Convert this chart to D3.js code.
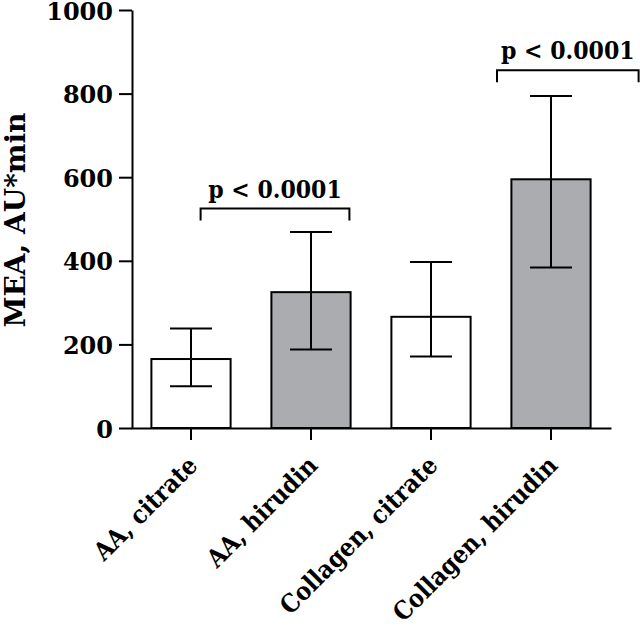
<!DOCTYPE html>
<html>
<head>
<meta charset="utf-8">
<script src="https://cdn.jsdelivr.net/npm/d3@7"></script>
<style>
  body { margin: 0; background: #fff; }
  svg text { font-family: "DejaVu Serif", serif; font-weight: bold; fill: #000; }
  .ptext, .xlab { font-stretch: condensed; }
</style>
</head>
<body>
<div id="chart"></div>
<script>
var w = 640, h = 627;

// data
var groups = ['AA, citrate', 'AA, hirudin', 'Collagen, citrate', 'Collagen, hirudin'];
var means = [165, 325, 266, 595];
var errLow = [100, 188, 171, 384];
var errHigh = [238, 469, 397, 794];
var yTicks = [0, 200, 400, 600, 800, 1000];

// significance brackets (category index units for x, data units for y)
var pLabels = ['p < 0.0001', 'p < 0.0001'];
var bracketFrom = [0.08, 2.55];
var bracketTo = [1.32, 3.73];
var bracketLevel = [525, 856];

var fills = ['#ffffff', '#abacb0', '#ffffff', '#abacb0'];

var svg = d3.select('#chart').append('svg')
  .attr('width', w)
  .attr('height', h);

var y = d3.scaleLinear().domain([0, 1000]).range([428, 10]);
var x = d3.scaleBand().domain(groups).range([131, 611])
  .paddingInner(0.34).paddingOuter(0.17);

// index -> pixel centre of category
function xi(v) {
  return x(groups[0]) + x.bandwidth() / 2 + v * x.step();
}

// bars
svg.selectAll('rect.bar')
  .data(groups)
  .enter()
  .append('rect')
  .attr('class', 'bar')
  .attr('x', function (d) { return x(d); })
  .attr('y', function (d, i) { return y(means[i]); })
  .attr('width', x.bandwidth())
  .attr('height', function (d, i) { return y(0) - y(means[i]); })
  .attr('fill', function (d, i) { return fills[i]; })
  .attr('stroke', '#000')
  .attr('stroke-width', 2);

// error bars
var capW = x.bandwidth() * 0.53;
var eb = svg.selectAll('g.err')
  .data(groups)
  .enter()
  .append('g')
  .attr('class', 'err')
  .attr('stroke', '#000')
  .attr('stroke-width', 2);

eb.append('line')
  .attr('x1', function (d) { return x(d) + x.bandwidth() / 2; })
  .attr('x2', function (d) { return x(d) + x.bandwidth() / 2; })
  .attr('y1', function (d, i) { return y(errLow[i]); })
  .attr('y2', function (d, i) { return y(errHigh[i]); });
eb.append('line')
  .attr('x1', function (d) { return x(d) + x.bandwidth() / 2 - capW / 2; })
  .attr('x2', function (d) { return x(d) + x.bandwidth() / 2 + capW / 2; })
  .attr('y1', function (d, i) { return y(errHigh[i]); })
  .attr('y2', function (d, i) { return y(errHigh[i]); });
eb.append('line')
  .attr('x1', function (d) { return x(d) + x.bandwidth() / 2 - capW / 2; })
  .attr('x2', function (d) { return x(d) + x.bandwidth() / 2 + capW / 2; })
  .attr('y1', function (d, i) { return y(errLow[i]); })
  .attr('y2', function (d, i) { return y(errLow[i]); });

// y axis
var yAxis = svg.append('g')
  .attr('transform', 'translate(132,0)')
  .call(d3.axisLeft(y).tickValues(yTicks).tickFormat(d3.format('d'))
    .tickSize(13).tickSizeOuter(0).tickPadding(6));
yAxis.select('.domain').attr('stroke-width', 2);
yAxis.selectAll('.tick line').attr('stroke-width', 2);
yAxis.selectAll('.tick text')
  .style('font-size', '24px')
  .attr('dy', '0.38em');

// x axis
var xAxis = svg.append('g')
  .attr('transform', 'translate(0,428)')
  .call(d3.axisBottom(x).tickSize(12).tickSizeOuter(0).tickFormat(''));
xAxis.select('.domain').attr('stroke-width', 2);
xAxis.selectAll('.tick line').attr('stroke-width', 2);

// rotated category labels
svg.selectAll('text.xlab')
  .data(groups)
  .enter()
  .append('text')
  .attr('class', 'xlab')
  .attr('text-anchor', 'end')
  .attr('transform', function (d) {
    return 'translate(' + (x(d) + x.bandwidth() / 2 + 8) + ',467) rotate(-45)';
  })
  .style('font-size', '25px')
  .text(function (d) { return d; });

// y title
svg.append('text')
  .attr('text-anchor', 'middle')
  .attr('transform', 'translate(25,220) rotate(-90)')
  .style('font-size', '28px')
  .text('MEA, AU*min');

// brackets
var br = svg.selectAll('g.bracket')
  .data(pLabels)
  .enter()
  .append('g')
  .attr('class', 'bracket');

br.append('path')
  .attr('fill', 'none')
  .attr('stroke', '#000')
  .attr('stroke-width', 2)
  .attr('d', function (d, i) {
    var x1 = xi(bracketFrom[i]), x2 = xi(bracketTo[i]);
    var yy = y(bracketLevel[i]);
    return 'M' + x1 + ',' + (yy + 12) + 'V' + yy + 'H' + x2 + 'V' + (yy + 12);
  });

br.append('text')
  .attr('class', 'ptext')
  .attr('text-anchor', 'middle')
  .attr('x', function (d, i) { return (xi(bracketFrom[i]) + xi(bracketTo[i])) / 2; })
  .attr('y', function (d, i) { return y(bracketLevel[i]) - 11; })
  .style('font-size', '24.5px')
  .text(function (d) { return d; });
</script>
</body>
</html>
